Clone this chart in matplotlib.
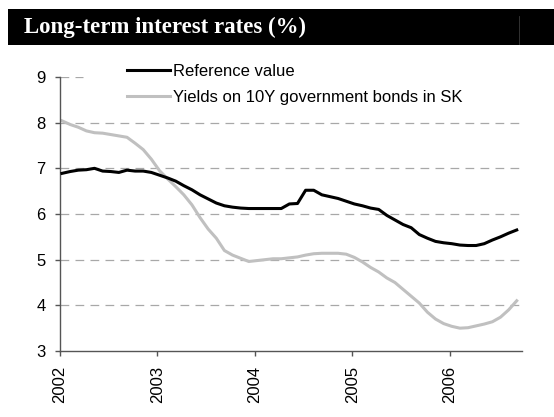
import numpy as np
import matplotlib
matplotlib.use("Agg")
import matplotlib.pyplot as plt
from matplotlib.patches import Rectangle

# monthly data, Jan 2002 .. Sep 2006
years = [2002, 2003, 2004, 2005, 2006]
reference_value = [
    6.89, 6.93, 6.96, 6.97, 7.00, 6.94, 6.93, 6.91, 6.96, 6.94, 6.94, 6.91,
    6.85, 6.79, 6.72, 6.62, 6.53, 6.42, 6.33, 6.24, 6.18, 6.15, 6.13, 6.12,
    6.12, 6.12, 6.12, 6.12, 6.22, 6.23, 6.52, 6.52, 6.42, 6.38, 6.34, 6.28,
    6.22, 6.18, 6.13, 6.10, 5.97, 5.87, 5.77, 5.70, 5.55, 5.47, 5.40, 5.37,
    5.35, 5.32, 5.31, 5.31, 5.35, 5.43, 5.50, 5.58, 5.65,
]
sk_yields = [
    8.04, 7.96, 7.90, 7.82, 7.78, 7.77, 7.74, 7.71, 7.68, 7.55, 7.41, 7.20,
    6.95, 6.77, 6.60, 6.42, 6.20, 5.92, 5.67, 5.47, 5.20, 5.10, 5.03, 4.96,
    4.98, 5.00, 5.02, 5.02, 5.04, 5.06, 5.10, 5.13, 5.14, 5.14, 5.14, 5.12,
    5.05, 4.95, 4.83, 4.73, 4.60, 4.50, 4.35, 4.20, 4.05, 3.85, 3.70, 3.60,
    3.54, 3.50, 3.51, 3.55, 3.59, 3.64, 3.74, 3.90, 4.10,
]
labels = ["Reference value", "Yields on 10Y government bonds in SK"]

months = np.arange(len(reference_value)) + 0.25

plt.rcParams['font.family'] = ['Liberation Sans', 'DejaVu Sans']

fig = plt.figure(figsize=(5.54, 4.17), dpi=100)
ax = fig.add_axes([60 / 554, 1 - 351 / 417, 462 / 554, 274 / 417])

# title bar
fig.patches.append(Rectangle((8 / 554, 1 - 45 / 417), 546 / 554, 36 / 417,
                             transform=fig.transFigure, facecolor='black',
                             edgecolor='none', zorder=0))
fig.add_artist(plt.Line2D([519 / 554, 519 / 554], [1 - 44 / 417, 1 - 16 / 417],
                          transform=fig.transFigure, color='#3a3a3a', lw=0.6))
fig.text(24 / 554, 1 - 27 / 417, "Long-term interest rates (%)",
         family=['Liberation Serif', 'DejaVu Serif'], fontweight='bold',
         fontsize=16.5, color='white', va='center', ha='left')

ax.plot(months, reference_value, color='black', lw=2.2, label=labels[0],
        solid_joinstyle='round', zorder=3)
ax.plot(months, sk_yields, color='#c0c0c0', lw=2.2, label=labels[1],
        solid_joinstyle='round', zorder=2)

ax.set_xlim(0, 56.9)
ax.set_ylim(3, 9)
ax.set_yticks(range(3, 10))
ax.set_xticks([12 * k for k in range(len(years))])
ax.set_xticklabels([str(y) for y in years], rotation=90)

ax.yaxis.grid(True, color='#a8a8a8', lw=0.9, dashes=(7, 5))
ax.set_axisbelow(True)
gl = ax.get_ygridlines()
gl[-1].set_visible(False)
gl[0].set_visible(False)
ax.axhline(9, xmin=0, xmax=0.05, color='#a8a8a8', lw=0.9, dashes=(7, 5), zorder=1)

for s in ['top', 'right']:
    ax.spines[s].set_visible(False)
for s in ['left', 'bottom']:
    ax.spines[s].set_color('#555555')
    ax.spines[s].set_linewidth(1.0)
ax.tick_params(axis='both', direction='out', length=3.5, width=1.0,
               color='#555555', labelsize=12, pad=7)

leg = fig.legend(loc='upper left', bbox_to_anchor=(127 / 554, 1 - 64 / 417),
                 frameon=False, fontsize=12, handlelength=2.6,
                 handletextpad=0.15, labelspacing=0.68, borderpad=0,
                 borderaxespad=0)

fig.savefig('out.png', dpi=100)
